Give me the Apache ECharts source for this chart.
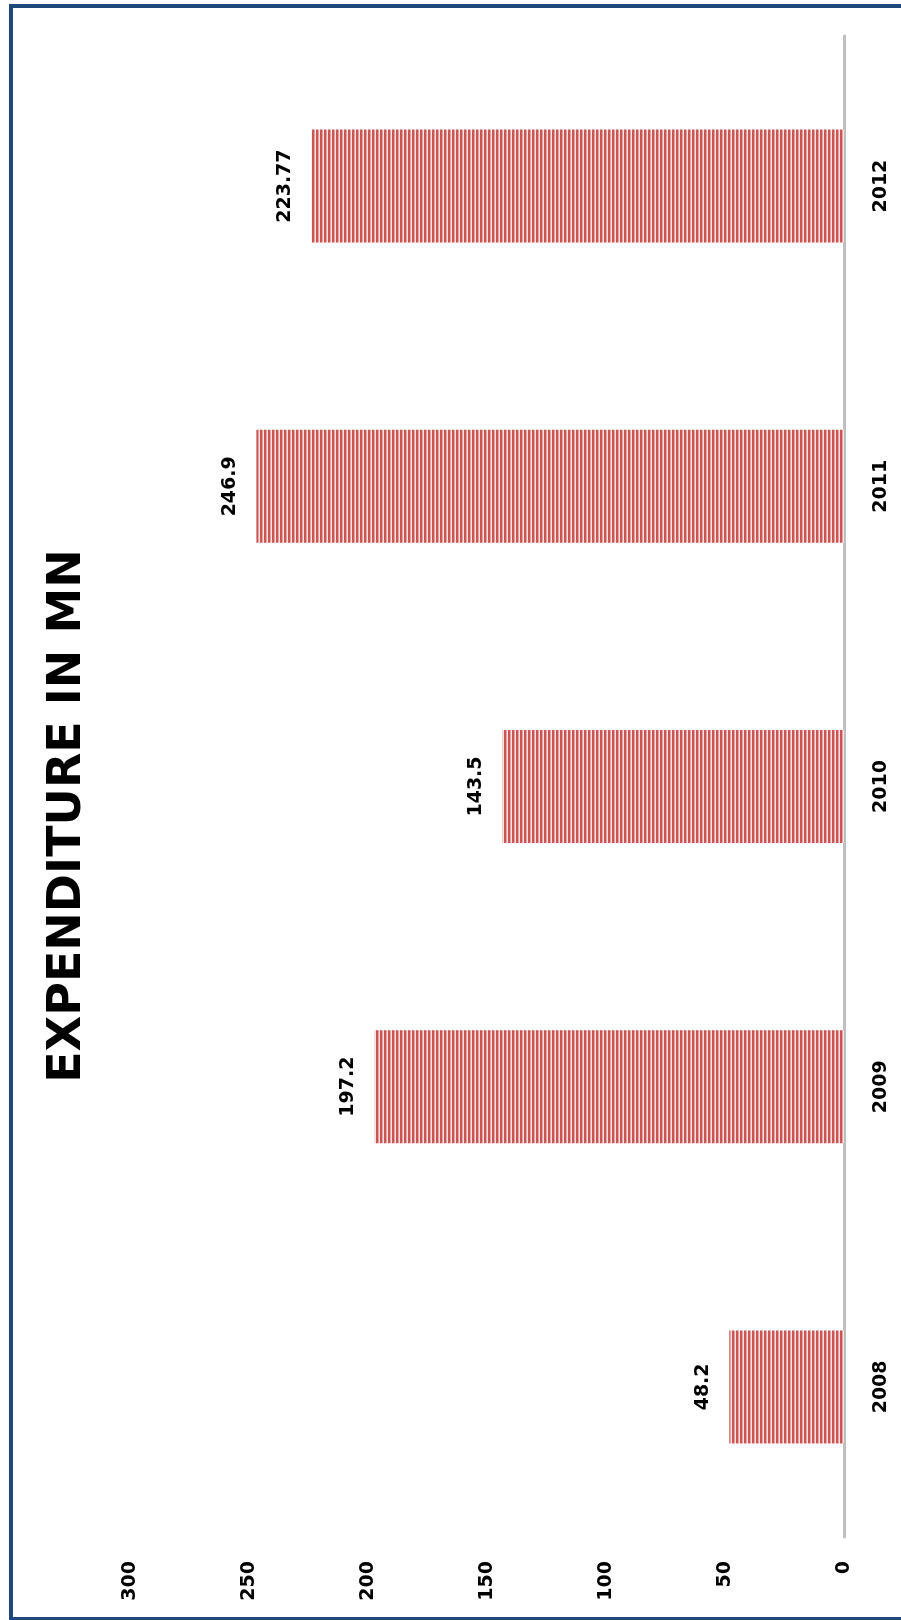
<!DOCTYPE html>
<html>
<head>
<meta charset="utf-8">
<script src="https://cdn.jsdelivr.net/npm/echarts@6/dist/echarts.min.js"></script>
<style>
html, body { margin: 0; padding: 0; background: #fff; }
#chartmain { width: 901px; height: 1620px; }
</style>
</head>
<body>
<div id="chartmain"></div>
<script>
var years = ['2008', '2009', '2010', '2011', '2012'];
var spending = [48.2, 197.2, 143.5, 246.9, 223.77];
var titleText = 'EXPENDITURE IN MN';

// striped fill for the bars
var stripe = document.createElement('canvas');
stripe.width = 4;
stripe.height = 4;
var ctx = stripe.getContext('2d');
ctx.fillStyle = '#CB5553';
ctx.fillRect(0, 0, 2, 4);
ctx.fillStyle = '#E9A3A2';
ctx.fillRect(2, 0, 1, 4);
ctx.fillStyle = '#FAE3E3';
ctx.fillRect(3, 0, 1, 4);

var myChart = echarts.init(document.getElementById('chartmain'));
var option = {
    animation: false,
    backgroundColor: '#fff',
    graphic: [
        {
            type: 'rect',
            shape: { x: 11, y: 6, width: 950, height: 1613 },
            style: { fill: 'none', stroke: '#1F497D', lineWidth: 4 }
        },
        {
            type: 'text',
            x: 68,
            y: 816,
            rotation: Math.PI / 2,
            style: {
                text: titleText,
                font: 'bold 46px "DejaVu Sans"',
                fill: '#000',
                align: 'center',
                verticalAlign: 'middle'
            }
        }
    ],
    grid: {
        left: 130,
        right: 57,
        top: 36,
        bottom: 83
    },
    xAxis: {
        type: 'value',
        inverse: true,
        min: 0,
        max: 300,
        interval: 50,
        splitLine: { show: false },
        axisLine: { show: false },
        axisTick: { show: false },
        axisLabel: {
            rotate: 90,
            margin: 24,
            color: '#000',
            fontFamily: 'DejaVu Sans',
            fontWeight: 'bold',
            fontSize: 19
        }
    },
    yAxis: {
        type: 'category',
        position: 'right',
        data: years,
        axisLine: { show: true, lineStyle: { color: '#BFBFBF', width: 3 } },
        axisTick: { show: false },
        axisLabel: {
            rotate: 90,
            margin: 28,
            color: '#000',
            fontFamily: 'DejaVu Sans',
            fontWeight: 'bold',
            fontSize: 19
        }
    },
    series: [
        {
            type: 'bar',
            data: spending,
            barWidth: 113,
            itemStyle: {
                color: { image: stripe, repeat: 'repeat' }
            },
            label: {
                show: true,
                position: 'left',
                distance: 17,
                rotate: 90,
                align: 'center',
                verticalAlign: 'bottom',
                color: '#000',
                fontFamily: 'DejaVu Sans',
                fontWeight: 'bold',
                fontSize: 19
            }
        }
    ]
};
myChart.setOption(option);
</script>
</body>
</html>
